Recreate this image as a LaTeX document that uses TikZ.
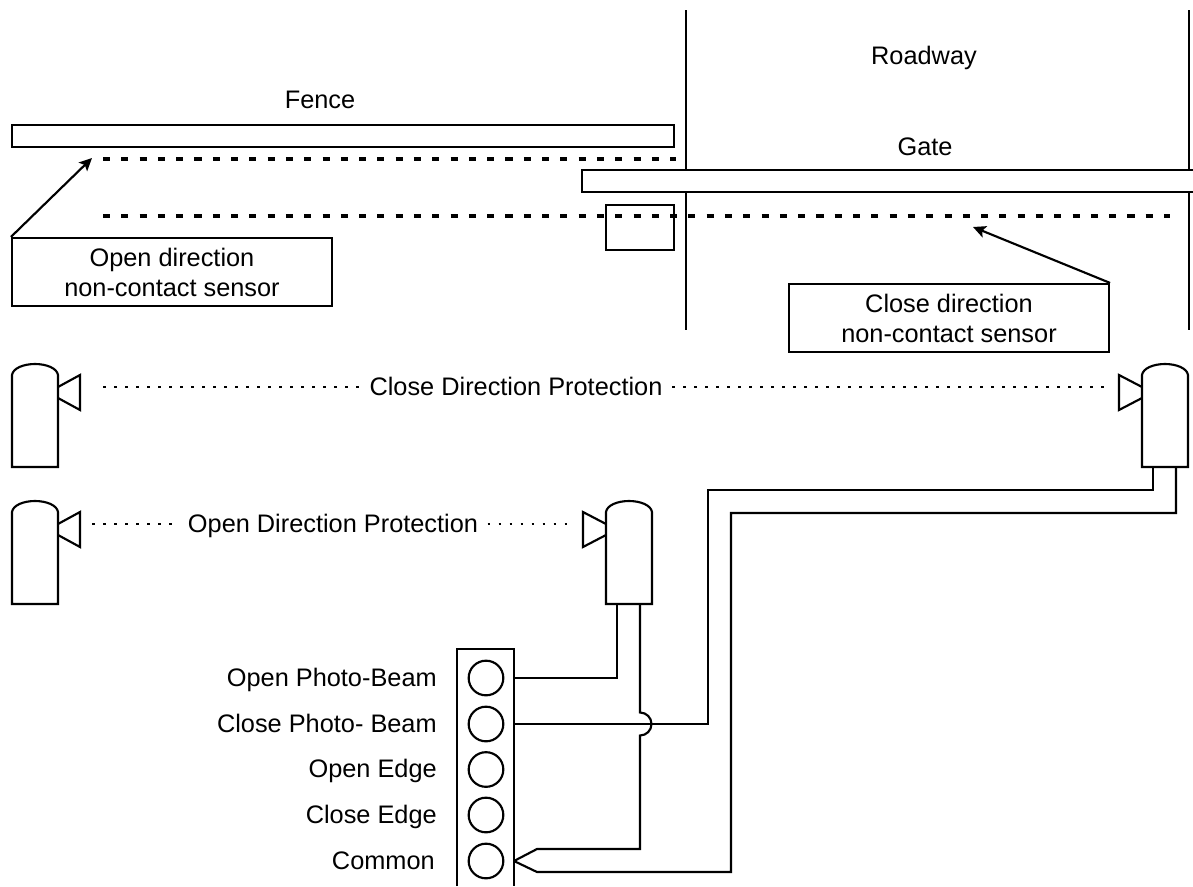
\documentclass[tikz,border=0pt]{standalone}
\usepackage{fontspec}
\usetikzlibrary{arrows.meta}
\setmainfont{Liberation Sans}
\tikzset{
	wire/.style={line width=1.6pt,line join=miter},
	pointer/.style={wire,-{Stealth[length=9.5pt,width=9pt,inset=2pt]}},
	beam/.style={line width=2.9pt,dash pattern=on 5.3pt off 8.42pt},
	ray/.style={line width=2.1pt,dash pattern=on 2.1pt off 6.15pt},
	label/.style={font=\fontsize{19}{22.5}\selectfont,align=center,inner sep=0pt,anchor=base},
	sensorbox/.style={draw,line width=1.6pt,minimum width=240pt,minimum height=51pt,inner sep=0pt,font=\fontsize{19}{22.5}\selectfont,align=center},
	terminal/.style={draw,circle,line width=1.6pt,minimum size=26pt,inner sep=0pt}
}
\begin{document}
\begin{tikzpicture}[x=0.75pt,y=-0.75pt]
	\useasboundingbox (0,0) rectangle (1193,886);
	% fence, gate and roadway
	\draw[wire] (686,10) -- (686,170);
	\draw[wire] (686,192) -- (686,330);
	\draw[wire] (1189,10) -- (1189,170);
	\draw[wire] (1189,192) -- (1189,330);
	\draw[wire] (12,125) rectangle (674,147);
	\draw[wire] (1193,170) -- (582,170) -- (582,192) -- (1193,192);
	\draw[wire] (606,205) rectangle (674,250);
	\draw[beam] (103,159) -- (676,159);
	\draw[beam] (103,216) -- (1170,216);
	\node[label] (roadway) at (924,64) {Roadway};
	\node[label] (fence) at (320,108) {Fence};
	\node[label] (gate) at (925,155) {Gate};
	\node[sensorbox] (opensensor) at (172,272) {Open direction\\non-contact sensor};
	\node[sensorbox] (closesensor) at (949,318) {Close direction\\non-contact sensor};
	\coordinate (opentip) at (92,158);
	\coordinate (closetip) at (973,227);
	\draw[pointer] (opensensor.north west) -- (opentip);
	\draw[pointer] (closesensor.north east) -- (closetip);
	% photo-beams
	\foreach \sx/\sy in {12/364,12/501,606/501,1142/364}
		\draw[wire] (\sx,\sy+11) .. controls (\sx+1,\sy+4) and (\sx+12,\sy) .. (\sx+23,\sy)
			.. controls (\sx+34,\sy) and (\sx+45,\sy+4) .. (\sx+46,\sy+11)
			-- (\sx+46,\sy+103) -- (\sx,\sy+103) -- cycle;
	\foreach \hx/\hy/\hd in {58/364/22,58/501/22,606/501/-23,1142/364/-23}
		\draw[wire] (\hx,\hy+23) -- (\hx+\hd,\hy+11) -- (\hx+\hd,\hy+46) -- (\hx,\hy+34);
	\node[label] (closelabel) at (516,395.5) {Close Direction Protection};
	\node[label] (openlabel) at (333,532) {Open Direction Protection};
	\coordinate (closeA) at (103,387);
	\coordinate (closeB) at (1107,387);
	\coordinate (openA) at (92,524);
	\coordinate (openB) at (572,524);
	\draw[ray] (closeA) -- ([xshift=-7pt]closelabel.west |- closeA);
	\draw[ray] ([xshift=7pt]closelabel.east |- closeB) -- (closeB);
	\draw[ray] (openA) -- ([xshift=-6pt]openlabel.west |- openA);
	\draw[ray] ([xshift=7pt]openlabel.east |- openB) -- (openB);
	% terminal strip
	\draw[wire] (457,886) -- (457,649) -- (514,649) -- (514,886);
	\foreach \n/\ty/\by/\txt in {1/678/686/Open Photo-Beam,2/724/732/Close Photo- Beam,3/769.5/777/Open Edge,4/815/823/Close Edge}{
		\node[terminal] (t\n) at (486,\ty) {};
		\node[label,anchor=base east] (l\n) at (437,\by) {\txt};
		\coordinate (e\n) at (514,\ty);
	}
	\node[terminal] (t5) at (486,861) {};
	\node[label,anchor=base east] (l5) at (435,869) {Common};
	\coordinate (e5) at (514,861);
	% wiring
	\coordinate (midA) at (617,604);
	\coordinate (midB) at (640,604);
	\coordinate (farA) at (1153,467);
	\coordinate (farB) at (1176,467);
	\draw[wire] (e1) -| (midA);
	\draw[wire] (e2) -- (708,724) -- (708,490) -| (farA);
	\draw[wire] (midB) -- (640,712.5) arc[start angle=-90,end angle=90,radius=11.5] -- (640,849) -- (537,849) -- (e5);
	\draw[wire] (farB) -- (1176,513) -- (731,513) -- (731,872) -- (537,872) -- (e5);
\end{tikzpicture}
\end{document}
